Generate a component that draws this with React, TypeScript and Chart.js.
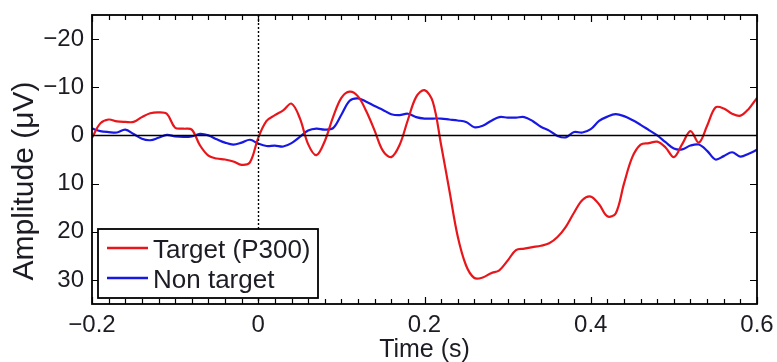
import React, { useEffect, useRef } from "react";
import { Chart, registerables } from "chart.js";

Chart.register(...registerables);

// Time axis (s)
const times: number[] = [
  -0.2, -0.19, -0.18, -0.17, -0.16, -0.15, -0.14, -0.13, -0.12, -0.11,
  -0.1, -0.09, -0.08, -0.07, -0.06, -0.05, -0.04, -0.03, -0.02, -0.01,
  0.0, 0.01, 0.02, 0.03, 0.04, 0.05, 0.06, 0.07, 0.08, 0.09,
  0.1, 0.11, 0.12, 0.13, 0.14, 0.15, 0.16, 0.17, 0.18, 0.19,
  0.2, 0.21, 0.22, 0.23, 0.24, 0.25, 0.26, 0.27, 0.28, 0.29,
  0.3, 0.31, 0.32, 0.33, 0.34, 0.35, 0.36, 0.37, 0.38, 0.39,
  0.4, 0.41, 0.42, 0.43, 0.44, 0.45, 0.46, 0.47, 0.48, 0.49,
  0.5, 0.51, 0.52, 0.53, 0.54, 0.55, 0.56, 0.57, 0.58, 0.59,
  0.6,
];

// Amplitude (µV), Target (P300)
const targetP300: number[] = [
  0.5, -2.5, -3.3, -2.9, -2.8, -2.8, -3.8, -4.6, -4.8, -4.5,
  -1.6, -1.4, -1.2, 2.1, 4.2, 4.8, 5.0, 5.4, 6.1, 5.6,
  0.5, -3.0, -4.2, -5.2, -6.6, -3.6, 1.8, 4.1, 1.2, -3.8,
  -7.8, -9.1, -8.1, -5.0, -1.0, 3.2, 4.5, 2.0, -3.2, -8.0,
  -9.4, -7.0, 2.0, 11.5, 21.0, 27.0, 29.6, 29.5, 28.6, 28.0,
  26.0, 23.8, 23.5, 23.2, 22.9, 22.4, 21.1, 19.0, 16.0, 13.4,
  12.7, 14.3, 16.8, 16.2, 10.0, 4.5, 1.9, 1.6, 1.3, 2.5,
  4.5, 1.8, -0.9, 1.5, -2.0, -5.8, -5.6, -4.5, -4.1, -5.5,
  -7.8,
];

// Amplitude (µV), Non target
const nonTarget: number[] = [
  -1.4, -0.9, -0.7, -0.6, -1.2, -0.3, 0.7, 1.0, 0.5, -0.1,
  0.2, 0.3, 0.2, -0.3, 0.0, 0.8, 1.5, 1.9, 1.5, 0.9,
  1.7, 2.2, 2.1, 2.3, 1.6, 0.3, -1.0, -1.4, -1.2, -1.5,
  -4.3, -7.2, -7.7, -7.0, -6.1, -5.3, -4.4, -4.2, -4.5, -3.8,
  -3.5, -3.5, -3.5, -3.3, -3.1, -2.8, -1.7, -2.0, -3.0, -3.8,
  -3.7, -3.7, -3.8, -3.0, -1.8, -1.0, 0.1, 0.4, -0.7, -0.6,
  -1.3, -3.0, -3.9, -4.4, -4.0, -3.2, -2.2, -1.1, 0.0, 1.4,
  2.7, 2.9, 2.1, 1.9, 3.2, 5.0, 4.3, 3.5, 4.4, 3.8,
  3.0,
];

const xTickValues: number[] = [-0.2, 0, 0.2, 0.4, 0.6];
const yTickValues: number[] = [-20, -10, 0, 10, 20, 30];
const seriesLabels: string[] = ["Target (P300)", "Non target"];
const xTitle = "Time (s)";
const yTitle = "Amplitude (\u03bcV)";

const RED = "rgb(232,22,26)";
const BLUE = "rgb(24,24,228)";
const TEXT = "#1c1c24";
const FONT_FAMILY = "'Liberation Sans', Arial, Helvetica, sans-serif";

const fmt = (v: number, dec: number) => {
  let s: string;
  if (Math.abs(v) < 1e-9) s = "0";
  else s = dec > 0 ? v.toFixed(dec) : String(Math.round(v));
  return s.replace("-", "\u2212");
};

const decorPlugin = {
  id: "decor",
  afterDatasetsDraw(chart: any) {
    const { ctx, chartArea } = chart;
    const { left, right, top, bottom } = chartArea;
    const xs = chart.scales.x;
    const ys = chart.scales.y;
    ctx.save();
    // zero line
    const y0 = Math.round(ys.getPixelForValue(0)) + 0.5;
    ctx.strokeStyle = "#000";
    ctx.lineWidth = 1.6;
    ctx.beginPath();
    ctx.moveTo(left, y0);
    ctx.lineTo(right, y0);
    ctx.stroke();
    // dotted vertical at t = 0
    const x0 = Math.round(xs.getPixelForValue(0)) + 0.5;
    ctx.setLineDash([2, 2]);
    ctx.lineWidth = 1.4;
    ctx.beginPath();
    ctx.moveTo(x0, top);
    ctx.lineTo(x0, bottom);
    ctx.stroke();
    ctx.setLineDash([]);
    ctx.restore();
  },
  afterDraw(chart: any) {
    const { ctx, chartArea } = chart;
    const { left, right, top, bottom } = chartArea;
    const xs = chart.scales.x;
    const ys = chart.scales.y;
    ctx.save();
    ctx.strokeStyle = "#000";
    ctx.lineWidth = 1.2;
    // minor + major x ticks (top and bottom, inward)
    for (let k = 0; k <= 40; k++) {
      const v = -0.2 + k * 0.02;
      const px = Math.round(xs.getPixelForValue(v)) + 0.5;
      const len = k % 10 === 0 ? 7 : 5;
      ctx.beginPath();
      ctx.moveTo(px, bottom);
      ctx.lineTo(px, bottom - len);
      ctx.moveTo(px, top);
      ctx.lineTo(px, top + len);
      ctx.stroke();
    }
    // y ticks left and right
    for (const v of yTickValues) {
      const py = Math.round(ys.getPixelForValue(v)) + 0.5;
      ctx.beginPath();
      ctx.moveTo(left, py);
      ctx.lineTo(left + 7, py);
      ctx.moveTo(right, py);
      ctx.lineTo(right - 7, py);
      ctx.stroke();
    }
    // frame
    ctx.lineWidth = 1.8;
    ctx.strokeRect(left, top, right - left, bottom - top);

    // legend
    const lx = 98, ly = 229, lw = 220, lh = 69;
    ctx.fillStyle = "#fff";
    ctx.fillRect(lx, ly, lw, lh);
    ctx.lineWidth = 1.8;
    ctx.strokeStyle = "#000";
    ctx.strokeRect(lx, ly, lw, lh);
    const colors = [RED, BLUE];
    const rowY = [248, 278];
    ctx.font = `26px ${FONT_FAMILY}`;
    ctx.textBaseline = "alphabetic";
    ctx.textAlign = "left";
    seriesLabels.forEach((lab, i) => {
      ctx.strokeStyle = colors[i];
      ctx.lineWidth = 2.6;
      ctx.beginPath();
      ctx.moveTo(107, rowY[i]);
      ctx.lineTo(148, rowY[i]);
      ctx.stroke();
      ctx.fillStyle = TEXT;
      ctx.fillText(lab, 153, rowY[i] + 9.5);
    });

    // axis titles
    ctx.fillStyle = TEXT;
    ctx.font = `25px ${FONT_FAMILY}`;
    ctx.textAlign = "center";
    ctx.textBaseline = "alphabetic";
    ctx.fillText(xTitle, (left + right) / 2, 357);

    ctx.save();
    ctx.translate(33, 181);
    ctx.rotate(-Math.PI / 2);
    ctx.font = `30px ${FONT_FAMILY}`;
    ctx.textAlign = "center";
    ctx.textBaseline = "alphabetic";
    ctx.fillText(yTitle, 0, 0);
    ctx.restore();

    ctx.restore();
  },
};

export default function App() {
  const ref = useRef<HTMLCanvasElement | null>(null);
  useEffect(() => {
    if (!ref.current) return;
    const font = { family: FONT_FAMILY, size: 24 };
    const chart = new Chart(ref.current, {
      type: "line",
      data: {
        datasets: [
          {
            label: seriesLabels[0],
            data: times.map((t, i) => ({ x: t, y: targetP300[i] })),
            borderColor: RED,
            borderWidth: 2.2,
            pointRadius: 0,
            tension: 0.35,
            fill: false,
          },
          {
            label: seriesLabels[1],
            data: times.map((t, i) => ({ x: t, y: nonTarget[i] })),
            borderColor: BLUE,
            borderWidth: 2.2,
            pointRadius: 0,
            tension: 0.35,
            fill: false,
          },
        ],
      },
      options: {
        animation: false,
        responsive: false,
        maintainAspectRatio: false,
        layout: { padding: { top: 15, right: 20, left: 0, bottom: 0 } },
        plugins: {
          legend: { display: false },
          tooltip: { enabled: false },
          title: { display: false },
        },
        scales: {
          x: {
            type: "linear",
            min: -0.2,
            max: 0.6,
            afterFit: (s: any) => {
              s.height = 58;
              s.paddingLeft = 0;
              s.paddingRight = 0;
            },
            afterBuildTicks: (s: any) => {
              s.ticks = xTickValues.map((v) => ({ value: v }));
            },
            ticks: {
              font,
              color: TEXT,
              padding: 7,
              maxRotation: 0,
              autoSkip: false,
              callback: (v: any) => fmt(Number(v), 1),
            },
            grid: { display: false, drawTicks: false },
            border: { display: false },
          },
          y: {
            type: "linear",
            reverse: true,
            min: -25,
            max: 35,
            afterFit: (s: any) => {
              s.width = 92;
              s.paddingTop = 0;
              s.paddingBottom = 0;
            },
            afterBuildTicks: (s: any) => {
              s.ticks = yTickValues.map((v) => ({ value: v }));
            },
            ticks: {
              font,
              color: TEXT,
              padding: 8,
              autoSkip: false,
              callback: (v: any) => fmt(Number(v), 0),
            },
            grid: { display: false, drawTicks: false },
            border: { display: false },
          },
        },
      },
      plugins: [decorPlugin],
    } as any);
    return () => chart.destroy();
  }, []);
  return (
    <div style={{ position: "absolute", left: 0, top: 0, width: 777, height: 362, background: "#fff" }}>
      <canvas ref={ref} width={777} height={362} style={{ display: "block", width: 777, height: 362 }} />
    </div>
  );
}
